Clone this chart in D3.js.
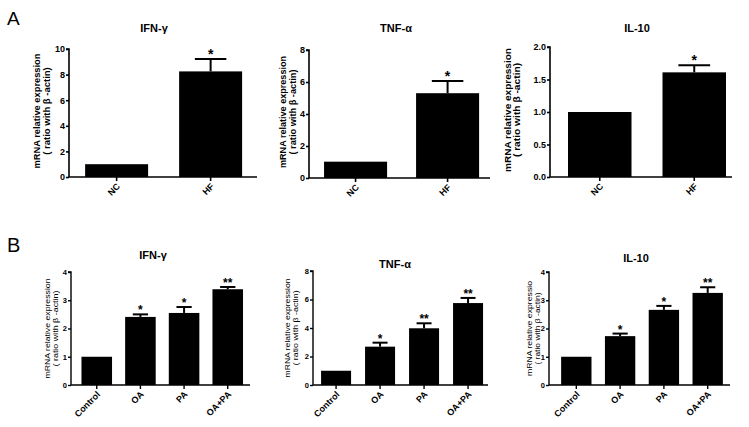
<!DOCTYPE html>
<html>
<head>
<meta charset="utf-8">
<script src="https://cdn.jsdelivr.net/npm/d3@7"></script>
<style>
  html, body { margin: 0; padding: 0; background: #fff; }
  svg { display: block; }
  text { font-family: "Liberation Sans", Arial, sans-serif; fill: #000; }
</style>
</head>
<body>
<svg id="chart" width="749" height="427"></svg>
<script>
// ---------- data ----------
const groupsA = ["NC", "HF"];
const groupsB = ["Control", "OA", "PA", "OA+PA"];

const titles = ["IFN-γ", "TNF-α", "IL-10"];
const yLabel1 = "mRNA relative expression";
const yLabel1Short = "mRNA relative expressio";
const yLabel2 = "( ratio with β -actin)";

const ifnA = [1.0, 8.25];
const ifnAErr = [0, 0.97];
const tnfA = [1.02, 5.3];
const tnfAErr = [0, 0.76];
const il10A = [1.0, 1.61];
const il10AErr = [0, 0.11];
const starsA = ["", "*"];

const ifnB = [1.0, 2.41, 2.55, 3.39];
const ifnBErr = [0, 0.09, 0.21, 0.08];
const tnfB = [1.0, 2.69, 3.98, 5.75];
const tnfBErr = [0, 0.28, 0.35, 0.36];
const il10B = [1.0, 1.73, 2.66, 3.26];
const il10BErr = [0, 0.09, 0.14, 0.2];
const starsIfnB = ["", "*", "*", "**"];
const starsTnfB = ["", "*", "**", "**"];
const starsIl10B = ["", "*", "*", "**"];

const yTicksA1 = [0, 2, 4, 6, 8, 10];
const yTicksA2 = [0, 2, 4, 6, 8];
const yTicksA3 = [0, 0.5, 1.0, 1.5, 2.0];
const yTicksB1 = [0, 1, 2, 3, 4];
const yTicksB2 = [0, 2, 4, 6, 8];
const yTicksB3 = [0, 1, 2, 3, 4];

// ---------- layout ----------
const svg = d3.select("#chart");

const panels = [
  { groups: groupsA, vals: ifnA, errs: ifnAErr, stars: starsA, title: titles[0], yMax: 10, ticks: yTicksA1, fmt: d3.format("d"),
    x0: 69, x1: 257, yTop: 49, yBot: 177, pi: 0.33, po: 0.165, align: 0.52,
    tx: 154, ty: 32, l1x: 37, l2x: 47, lab1: yLabel1, labLen: 115, big: true },
  { groups: groupsA, vals: tnfA, errs: tnfAErr, stars: starsA, title: titles[1], yMax: 8, ticks: yTicksA2, fmt: d3.format("d"),
    x0: 309, x1: 490, yTop: 50, yBot: 178, pi: 0.315, po: 0.141, align: 0.58,
    tx: 396, ty: 32, l1x: 283, l2x: 293, lab1: yLabel1, labLen: 112, big: true },
  { groups: groupsA, vals: il10A, errs: il10AErr, stars: starsA, title: titles[2], yMax: 2, ticks: yTicksA3, fmt: d3.format(".1f"),
    x0: 550, x1: 732, yTop: 47, yBot: 177, pi: 0.328, po: 0.127, align: 0.75,
    tx: 637, ty: 32, l1x: 507.5, l2x: 516.5, lab1: yLabel1, labLen: 124, big: true },
  { groups: groupsB, vals: ifnB, errs: ifnBErr, stars: starsIfnB, title: titles[0], yMax: 4, ticks: yTicksB1, fmt: d3.format("d"),
    x0: 71, x1: 250, yTop: 272, yBot: 385, pi: 0.30, po: 0.2, align: 0.6,
    tx: 153, ty: 259, l1x: 46.5, l2x: 55, lab1: yLabel1, labLen: 100, big: false },
  { groups: groupsB, vals: tnfB, errs: tnfBErr, stars: starsTnfB, title: titles[1], yMax: 8, ticks: yTicksB2, fmt: d3.format("d"),
    x0: 313, x1: 488, yTop: 271, yBot: 385, pi: 0.318, po: 0.148, align: 0.62,
    tx: 395, ty: 268, l1x: 286.5, l2x: 294.5, lab1: yLabel1, labLen: 99, big: false },
  { groups: groupsB, vals: il10B, errs: il10BErr, stars: starsIl10B, title: titles[2], yMax: 4, ticks: yTicksB3, fmt: d3.format("d"),
    x0: 549, x1: 730, yTop: 272, yBot: 385, pi: 0.307, po: 0.22, align: 0.63,
    tx: 636, ty: 262, l1x: 528.5, l2x: 536.5, lab1: yLabel1Short, labLen: 95, big: false }
];

// panel letters
svg.append("text").attr("x", 7).attr("y", 25).style("font-size", "19px").text("A");
svg.append("text").attr("x", 7).attr("y", 252).style("font-size", "20px").text("B");

panels.forEach(p => {
  const g = svg.append("g");
  const x = d3.scaleBand().domain(p.groups).range([p.x0, p.x1])
    .paddingInner(p.pi).paddingOuter(p.po).align(p.align);
  const y = d3.scaleLinear().domain([0, p.yMax]).range([p.yBot, p.yTop]);
  const tickFont = p.big ? "9px" : "7.5px";
  const sw = p.big ? 1.6 : 1.4;

  // title
  g.append("text").attr("x", p.tx).attr("y", p.ty).attr("text-anchor", "middle")
    .style("font-size", "11px").style("font-weight", "bold").text(p.title);

  // bars
  g.selectAll("rect.bar").data(p.vals).join("rect")
    .attr("x", (d, i) => x(p.groups[i]))
    .attr("width", x.bandwidth())
    .attr("y", d => y(d))
    .attr("height", d => y(0) - y(d))
    .attr("fill", "#000");

  // error bars (upper only)
  const capW = x.bandwidth() / 2;
  p.vals.forEach((v, i) => {
    const e = p.errs[i];
    if (e <= 0) return;
    const cx = x(p.groups[i]) + x.bandwidth() / 2;
    g.append("line").attr("x1", cx).attr("x2", cx).attr("y1", y(v)).attr("y2", y(v + e))
      .attr("stroke", "#000").attr("stroke-width", 2);
    g.append("line").attr("x1", cx - capW / 2).attr("x2", cx + capW / 2)
      .attr("y1", y(v + e)).attr("y2", y(v + e))
      .attr("stroke", "#000").attr("stroke-width", 2);
  });

  // stars
  p.stars.forEach((s, i) => {
    if (!s) return;
    const cx = x(p.groups[i]) + x.bandwidth() / 2;
    g.append("text").attr("x", cx).attr("y", y(p.vals[i] + p.errs[i]) + 0)
      .attr("text-anchor", "middle")
      .style("font-size", p.big ? "14px" : "12px").style("font-weight", "bold").text(s);
  });

  // y axis
  const yAxis = d3.axisLeft(y).tickValues(p.ticks).tickFormat(p.fmt).tickSize(3).tickPadding(1);
  const ya = g.append("g").attr("transform", `translate(${p.x0},0)`).call(yAxis);
  ya.select(".domain").attr("stroke", "#000").attr("stroke-width", sw).attr("d", `M-3,${p.yTop}H0V${p.yBot}`);
  ya.selectAll(".tick line").attr("stroke", "#000").attr("stroke-width", sw);
  ya.selectAll(".tick text").style("font-size", tickFont).style("font-weight", "bold")
    .style("font-family", "Liberation Sans, Arial, sans-serif").attr("fill", "#000");

  // x axis
  const xAxis = d3.axisBottom(x).tickSize(4).tickSizeOuter(0).tickFormat("");
  const xa = g.append("g").attr("transform", `translate(0,${p.yBot})`).call(xAxis);
  xa.select(".domain").attr("stroke", "#000").attr("stroke-width", sw).attr("d", `M${p.x0},0H${p.x1}`);
  xa.selectAll(".tick line").attr("stroke", "#000").attr("stroke-width", sw);

  // x labels rotated
  p.groups.forEach(name => {
    const cx = x(name) + x.bandwidth() / 2;
    g.append("text")
      .attr("transform", `translate(${cx + 4},${p.yBot + 10}) rotate(-45)`)
      .attr("text-anchor", "end")
      .style("font-size", "9px").style("font-weight", "bold").text(name);
  });

  // y label
  const cy = (p.yTop + p.yBot) / 2 - (p.big ? 2 : 0);
  [[p.lab1, p.l1x, p.labLen], [yLabel2, p.l2x, p.labLen * 0.76]].forEach(([t, lx, len]) => {
    g.append("text")
      .attr("transform", `translate(${lx + 3},${cy}) rotate(-90)`)
      .attr("text-anchor", "middle")
      .attr("textLength", len).attr("lengthAdjust", "spacingAndGlyphs")
      .style("font-size", p.big ? "9px" : "7.5px").style("font-weight", p.big ? "bold" : "normal")
      .text(t);
  });
});
</script>
</body>
</html>
